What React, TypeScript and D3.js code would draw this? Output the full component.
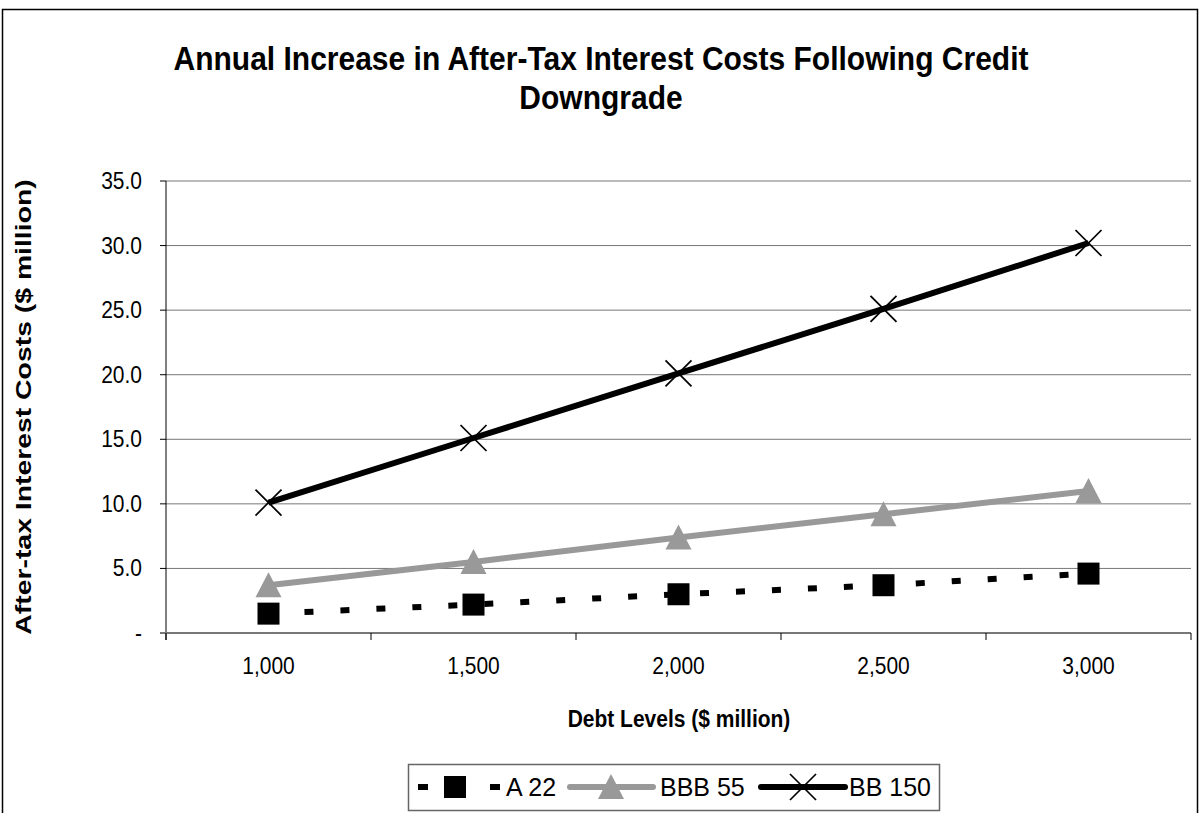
import React from 'react';
import * as d3 from 'd3';

const categories = ['1,000', '1,500', '2,000', '2,500', '3,000'];
const seriesA22 = [1.5, 2.2, 3.0, 3.7, 4.6];
const seriesBBB55 = [3.7, 5.5, 7.4, 9.2, 11.0];
const seriesBB150 = [10.1, 15.1, 20.1, 25.1, 30.2];
const yTicks = [0, 5, 10, 15, 20, 25, 30, 35];
const seriesNames = ['A 22', 'BBB 55', 'BB 150'];
const titleLines = ['Annual Increase in After-Tax Interest Costs Following Credit', 'Downgrade'];

const FONT = '"Liberation Sans", Arial, sans-serif';
const W = 1200, H = 813;
const plot = { left: 166, right: 1191, top: 181, bottom: 633 };

const fmtY = (v: number) => (v === 0 ? '-' : d3.format('.1f')(v));

// the reference's lettering is drawn a bit taller than wide
const stretch = (x: number, y: number, k: number) => `translate(${x},${y}) scale(1,${k})`;

function Marker({ kind, x, y }: { kind: string; x: number; y: number }) {
  if (kind === 'square') {
    return <rect x={x - 11} y={y - 11} width={22} height={22} fill="#000" />;
  }
  if (kind === 'triangle') {
    const p = d3.path();
    p.moveTo(x, y - 13);
    p.lineTo(x + 13, y + 12);
    p.lineTo(x - 13, y + 12);
    p.closePath();
    return <path d={p.toString()} fill="#999999" />;
  }
  return (
    <g stroke="#000" strokeWidth={1.7}>
      <line x1={x - 13} y1={y - 13} x2={x + 13} y2={y + 13} />
      <line x1={x - 13} y1={y + 13} x2={x + 13} y2={y - 13} />
    </g>
  );
}

export default function App() {
  const x = d3.scaleBand<string>().domain(categories).range([plot.left, plot.right]).padding(0);
  const y = d3.scaleLinear().domain([0, 35]).range([plot.bottom, plot.top]);
  const cx = (c: string) => (x(c) as number) + x.bandwidth() / 2;

  const series = [
    { name: seriesNames[0], values: seriesA22, color: '#000', width: 6, dash: '9 27', marker: 'square' },
    { name: seriesNames[1], values: seriesBBB55, color: '#999999', width: 6, dash: undefined, marker: 'triangle' },
    { name: seriesNames[2], values: seriesBB150, color: '#000', width: 6, dash: undefined, marker: 'x' },
  ];

  const line = d3.line<number>()
    .x((_, i) => cx(categories[i]))
    .y((d) => y(d));

  const bounds = [...categories.map((c) => x(c) as number), plot.right];

  // legend layout
  const legendItems = [
    { lx1: 418, lx2: 500, mx: 455, tx: 506 },
    { lx1: 570, lx2: 653, mx: 611, tx: 660 },
    { lx1: 761, lx2: 845, mx: 803, tx: 849 },
  ];
  const legY = 787;

  return (
    <svg width={W} height={H} style={{ position: 'absolute', left: 0, top: 0, background: '#fff' }} fontFamily={FONT}>
      <rect x={0} y={0} width={W} height={H} fill="#fff" />
      <rect x={2.5} y={9.5} width={1195} height={900} fill="none" stroke="#000" strokeWidth={1.5} />

      {titleLines.map((t, i) => (
        <text key={t} transform={stretch(601, 70 + i * 39, 1.12)} textAnchor="middle" fontSize={30} fontWeight="bold">{t}</text>
      ))}

      {/* gridlines */}
      {yTicks.filter((t) => t > 0).map((t) => (
        <line key={t} x1={plot.left} x2={plot.right} y1={y(t)} y2={y(t)} stroke="#777" strokeWidth={1} />
      ))}
      {/* y ticks + labels */}
      {yTicks.map((t) => (
        <g key={'yt' + t}>
          <line x1={plot.left - 6} x2={plot.left} y1={y(t)} y2={y(t)} stroke="#000" />
          <text transform={stretch(142, y(t) + 8, 1.15)} textAnchor="end" fontSize={21}>{fmtY(t)}</text>
        </g>
      ))}
      <line x1={plot.left} x2={plot.left} y1={plot.top} y2={plot.bottom + 7} stroke="#000" strokeWidth={1} />
      <line x1={plot.left - 6} x2={plot.right} y1={plot.bottom} y2={plot.bottom} stroke="#777" strokeWidth={2} />
      {bounds.map((b) => (
        <line key={'xt' + b} x1={b} x2={b} y1={plot.bottom} y2={plot.bottom + 7} stroke="#000" />
      ))}
      {categories.map((c) => (
        <text key={c} transform={stretch(cx(c), 674, 1.15)} textAnchor="middle" fontSize={21}>{c}</text>
      ))}

      <text transform={stretch(679, 727, 1.15)} textAnchor="middle" fontSize={21} fontWeight="bold">Debt Levels ($ million)</text>
      <text transform={`translate(31, ${(plot.top + plot.bottom) / 2}) scale(1,1.29) rotate(-90)`} textAnchor="middle" fontSize={22} fontWeight="bold">
        After-tax Interest Costs ($ million)
      </text>

      {series.map((s) => (
        <g key={s.name}>
          <path d={line(s.values) || ''} fill="none" stroke={s.color} strokeWidth={s.width} strokeDasharray={s.dash} />
          {s.values.map((v, i) => (
            <Marker key={i} kind={s.marker} x={cx(categories[i])} y={y(v)} />
          ))}
        </g>
      ))}

      {/* legend */}
      <rect x={408.5} y={764.5} width={531} height={46} fill="#fff" stroke="#666" strokeWidth={1.5} />
      {series.map((s, i) => {
        const it = legendItems[i];
        return (
          <g key={'lg' + s.name}>
            <line x1={it.lx1} x2={it.lx2} y1={legY} y2={legY} stroke={s.color} strokeWidth={s.width} strokeDasharray={s.dash ? '10 26' : undefined} strokeLinecap={s.dash ? 'butt' : 'round'} />
            <Marker kind={s.marker} x={it.mx} y={legY} />
            <text x={it.tx} y={legY + 9} fontSize={25}>{s.name}</text>
          </g>
        );
      })}
    </svg>
  );
}
